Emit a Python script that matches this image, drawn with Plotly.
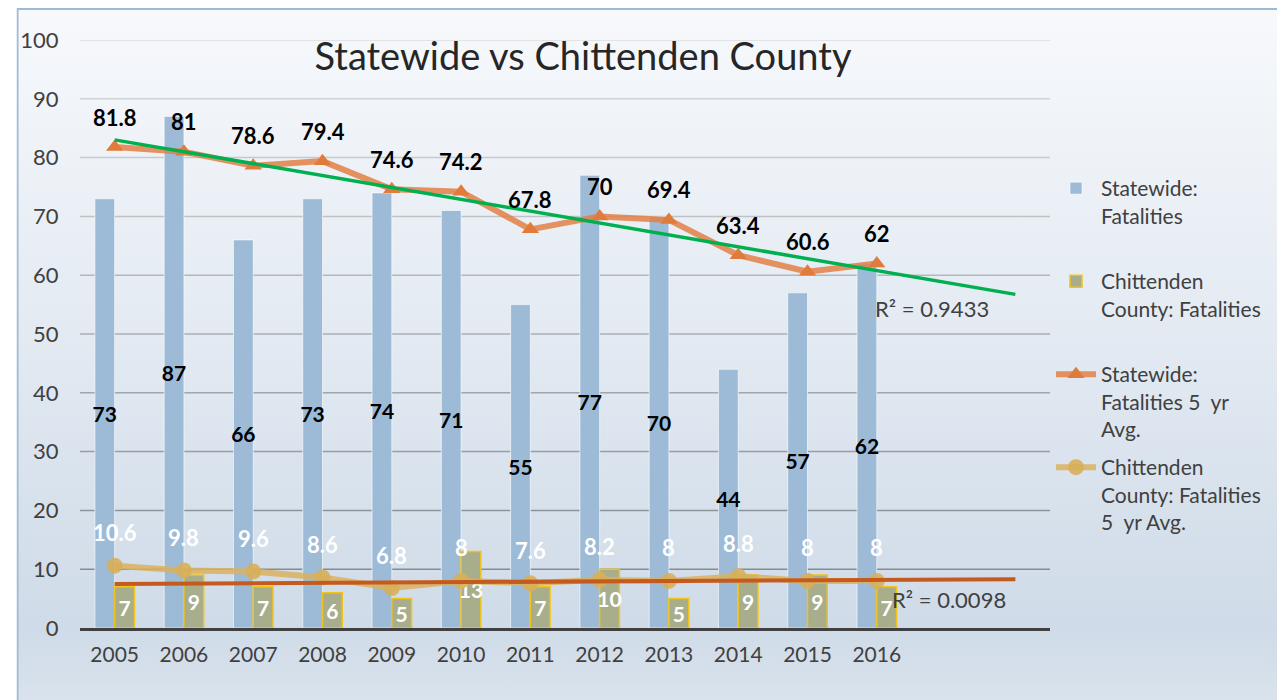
import base64
import numpy as np
import plotly.graph_objects as go

# ---------------- data ----------------
years = ["2005", "2006", "2007", "2008", "2009", "2010",
         "2011", "2012", "2013", "2014", "2015", "2016"]
statewide_fatalities = [73, 87, 66, 73, 74, 71, 55, 77, 70, 44, 57, 62]
chittenden_fatalities = [7, 9, 7, 6, 5, 13, 7, 10, 5, 9, 9, 7]
statewide_avg = [81.8, 81, 78.6, 79.4, 74.6, 74.2, 67.8, 70, 69.4, 63.4, 60.6, 62]
chittenden_avg = [10.6, 9.8, 9.6, 8.6, 6.8, 8, 7.6, 8.2, 8, 8.8, 8, 8]
y_ticks = [0, 10, 20, 30, 40, 50, 60, 70, 80, 90, 100]
forecast_periods = 2

# ---------------- layout constants ----------------
W, H = 1285, 700
ML, MR, MT, MB = 64, 243, 32, 80
PW, PH = W - ML - MR, H - MT - MB
FONT = "Lato"
TXT = "#404040"

idx = list(range(len(years)))


def trend(values, forward):
    x = np.arange(len(values))
    y = np.asarray(values, dtype=float)
    slope, icpt = np.polyfit(x, y, 1)
    pred = slope * x + icpt
    r2 = 1 - np.sum((y - pred) ** 2) / np.sum((y - y.mean()) ** 2)
    xs = np.arange(len(values) + forward)
    return xs, slope * xs + icpt, r2


sx, sy, sr2 = trend(statewide_avg, forecast_periods)
cx, cy, cr2 = trend(chittenden_fatalities, forecast_periods)


def py(px):  # pixel from top of figure -> paper y
    return (H - MB - px) / PH


def pxx(px):  # pixel from left of figure -> paper x
    return (px - ML) / PW


fig = go.Figure()

fig.add_trace(go.Bar(
    x=idx, y=statewide_fatalities, name="Statewide:<br>Fatalities",
    marker=dict(color="#9dbbd7", line=dict(color="rgba(255,255,255,0.6)", width=1)),
    text=statewide_fatalities, textposition="inside", insidetextanchor="middle",
    textangle=0, constraintext="none",
    textfont=dict(family=FONT, size=21, color="#000000", weight="bold"),
    legend="legend", hoverinfo="skip"))

fig.add_trace(go.Bar(
    x=idx, y=chittenden_fatalities, name="Chittenden<br>County: Fatalities",
    marker=dict(color="#a8ae8c", line=dict(color="#f2c318", width=1.5)),
    text=chittenden_fatalities, textposition="inside", insidetextanchor="middle",
    textangle=0, constraintext="none",
    textfont=dict(family=FONT, size=21, color="#ffffff", weight="bold"),
    legend="legend2", hoverinfo="skip"))

fig.add_trace(go.Scatter(
    x=idx, y=statewide_avg, mode="lines+markers",
    name="Statewide:<br>Fatalities 5  yr<br>Avg.",
    line=dict(color="rgba(226,128,70,0.85)", width=6),
    marker=dict(symbol="triangle-up", size=15, color="#e07b3c"),
    legend="legend3", hoverinfo="skip"))

fig.add_trace(go.Scatter(
    x=idx, y=chittenden_avg, mode="lines+markers",
    name="Chittenden<br>County: Fatalities<br>5  yr Avg.",
    line=dict(color="rgba(218,178,95,0.85)", width=6),
    marker=dict(symbol="circle", size=16, color="rgba(215,175,90,0.9)"),
    legend="legend4", hoverinfo="skip"))

fig.add_trace(go.Scatter(
    x=sx, y=sy, mode="lines", line=dict(color="#00b050", width=3.5),
    showlegend=False, hoverinfo="skip"))

fig.add_trace(go.Scatter(
    x=cx, y=cy, mode="lines", line=dict(color="#c55a1e", width=4),
    showlegend=False, hoverinfo="skip"))

annotations = []
for i, v in zip(idx, statewide_avg):
    annotations.append(dict(x=i, y=v, text=f"<b>{v:g}</b>", showarrow=False, yshift=30,
                            font=dict(family=FONT, size=22, color="#000000")))
for i, v in zip(idx, chittenden_avg):
    annotations.append(dict(x=i, y=v, text=f"<b>{v:g}</b>", showarrow=False, yshift=33,
                            font=dict(family=FONT, size=22, color="#ffffff")))
annotations.append(dict(x=10.94, y=54.4, text=f"R² = {sr2:.4f}", showarrow=False,
                        xanchor="left", yanchor="middle",
                        font=dict(family=FONT, size=22, color=TXT)))
annotations.append(dict(x=11.19, y=4.9, text=f"R² = {cr2:.4f}", showarrow=False,
                        xanchor="left", yanchor="middle",
                        font=dict(family=FONT, size=22, color=TXT)))

# gridlines with a vertical colour fade
shapes = []
lo, hi = np.array([134, 139, 146]), np.array([218, 220, 223])
for v in y_ticks[1:]:
    t = (v - 10) / 90
    c = (lo + (hi - lo) * t).astype(int)
    shapes.append(dict(type="line", xref="paper", x0=0, x1=1, yref="y", y0=v, y1=v,
                       line=dict(color=f"rgb({c[0]},{c[1]},{c[2]})", width=1.5),
                       layer="below"))

svg = f'''<svg xmlns="http://www.w3.org/2000/svg" width="{W}" height="{H}" viewBox="0 0 {W} {H}" preserveAspectRatio="none">
<defs><linearGradient id="g" x1="0" y1="0" x2="0" y2="1">
<stop offset="0" stop-color="#f7f9fc"/><stop offset="0.45" stop-color="#e3eaf2"/>
<stop offset="0.86" stop-color="#cfdbe8"/><stop offset="1" stop-color="#dee6ef"/>
</linearGradient></defs>
<rect x="1" y="1" width="{W + 20}" height="{H + 20}" fill="url(#g)" stroke="#9dbad6" stroke-width="2"/>
</svg>'''
src = "data:image/svg+xml;base64," + base64.b64encode(svg.encode()).decode()

legend_base = dict(x=pxx(1043), xanchor="left", yanchor="top", bgcolor="rgba(0,0,0,0)",
                   font=dict(family=FONT, size=21, color=TXT), itemwidth=40, valign="top")

fig.update_layout(
    width=W, height=H,
    margin=dict(l=ML, r=MR, t=MT, b=MB, pad=0),
    paper_bgcolor="#ffffff", plot_bgcolor="rgba(0,0,0,0)",
    barmode="group", bargap=0.43, bargroupgap=0,
    title=dict(text="Statewide vs Chittenden County", x=575 / W, xref="container",
               y=1 - 49 / H, yref="container", xanchor="center", yanchor="middle",
               font=dict(family=FONT, size=38, color="#262626")),
    xaxis=dict(range=[-0.5, len(years) + forecast_periods - 0.5], tickvals=idx, ticktext=years,
               showgrid=False, zeroline=False, showline=True, linecolor="#404040", linewidth=3,
               ticks="outside", ticklen=6, tickcolor="rgba(0,0,0,0)",
               tickfont=dict(family=FONT, size=21, color=TXT)),
    yaxis=dict(range=[0, 100], tickvals=y_ticks, showgrid=False, zeroline=False,
               ticks="outside", ticklen=16, tickcolor="rgba(0,0,0,0)",
               tickfont=dict(family=FONT, size=22, color=TXT)),
    legend=dict(legend_base, y=py(160)),
    legend2=dict(legend_base, y=py(253)),
    legend3=dict(legend_base, y=py(346)),
    legend4=dict(legend_base, y=py(439)),
    annotations=annotations,
    shapes=shapes,
    images=[dict(source=src, xref="paper", yref="paper", x=-ML / PW, y=1 + MT / PH,
                 sizex=W / PW, sizey=H / PH, xanchor="left", yanchor="top",
                 sizing="stretch", layer="below")],
    showlegend=True,
)

fig.write_html("out.html")
